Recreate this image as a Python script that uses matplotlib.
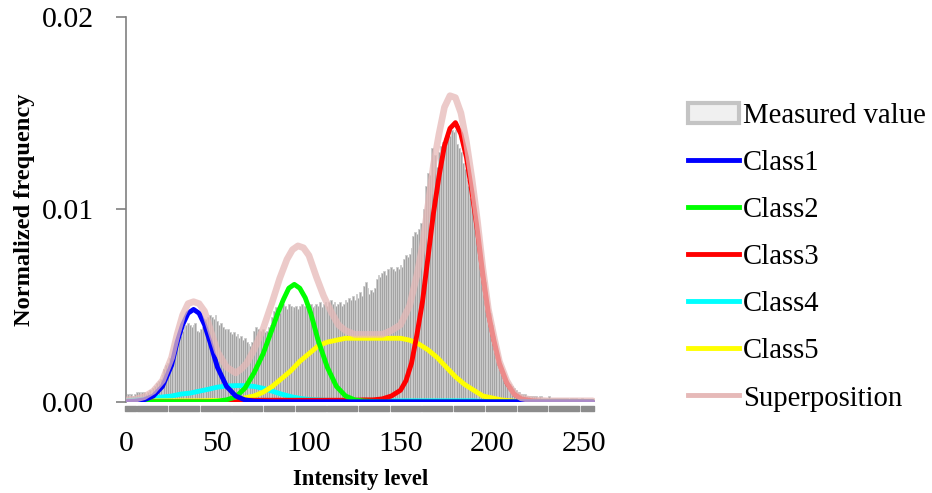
import numpy as np
import matplotlib
matplotlib.use("Agg")
import matplotlib.pyplot as plt
from matplotlib.patches import Patch
from matplotlib.lines import Line2D

plt.rcParams['font.family'] = ['Liberation Serif', 'DejaVu Serif']

# measured histogram, one value per intensity level 0..255
measured = [
    0.0003, 0.0004, 0.0004, 0.0004, 0.0003, 0.0004, 0.0005, 0.0005, 0.0004, 0.0005, 0.0005, 0.0004, 0.0005, 0.0006, 0.0006, 0.0007,
    0.0008, 0.0010, 0.0011, 0.0012, 0.0014, 0.0017, 0.0019, 0.0020, 0.0023, 0.0024, 0.0025, 0.0028, 0.0031, 0.0032, 0.0034, 0.0037,
    0.0039, 0.0040, 0.0041, 0.0040, 0.0039, 0.0040, 0.0041, 0.0037, 0.0036, 0.0038, 0.0039, 0.0041, 0.0043, 0.0044, 0.0045, 0.0044,
    0.0043, 0.0045, 0.0042, 0.0040, 0.0041, 0.0039, 0.0038, 0.0037, 0.0038, 0.0036, 0.0035, 0.0036, 0.0034, 0.0035, 0.0033, 0.0034,
    0.0032, 0.0033, 0.0031, 0.0030, 0.0029, 0.0031, 0.0037, 0.0039, 0.0038, 0.0036, 0.0037, 0.0038, 0.0036, 0.0037, 0.0039, 0.0040,
    0.0044, 0.0047, 0.0049, 0.0048, 0.0046, 0.0049, 0.0051, 0.0050, 0.0048, 0.0051, 0.0050, 0.0047, 0.0049, 0.0050, 0.0048, 0.0050,
    0.0051, 0.0049, 0.0050, 0.0048, 0.0050, 0.0051, 0.0049, 0.0050, 0.0051, 0.0050, 0.0052, 0.0049, 0.0051, 0.0052, 0.0050, 0.0052,
    0.0053, 0.0051, 0.0052, 0.0050, 0.0051, 0.0052, 0.0050, 0.0051, 0.0053, 0.0052, 0.0054, 0.0053, 0.0055, 0.0053, 0.0056, 0.0054,
    0.0057, 0.0055, 0.0060, 0.0062, 0.0059, 0.0056, 0.0058, 0.0057, 0.0059, 0.0064, 0.0066, 0.0065, 0.0067, 0.0068, 0.0066, 0.0069,
    0.0068, 0.0070, 0.0069, 0.0068, 0.0070, 0.0069, 0.0071, 0.0070, 0.0074, 0.0076, 0.0075, 0.0077, 0.0080, 0.0086, 0.0088, 0.0087,
    0.0090, 0.0093, 0.0092, 0.0100, 0.0112, 0.0119, 0.0118, 0.0132, 0.0125, 0.0128, 0.0122, 0.0130, 0.0133, 0.0135, 0.0137, 0.0138,
    0.0139, 0.0138, 0.0141, 0.0140, 0.0141, 0.0134, 0.0132, 0.0130, 0.0124, 0.0121, 0.0115, 0.0112, 0.0106, 0.0100, 0.0094, 0.0088,
    0.0082, 0.0078, 0.0072, 0.0066, 0.0062, 0.0057, 0.0050, 0.0046, 0.0040, 0.0034, 0.0029, 0.0026, 0.0021, 0.0018, 0.0015, 0.0013,
    0.0011, 0.0010, 0.0009, 0.0008, 0.0007, 0.0006, 0.0005, 0.0005, 0.0004, 0.0004, 0.0004, 0.0003, 0.0003, 0.0003, 0.0003, 0.0003,
    0.0003, 0.0002, 0.0003, 0.0003, 0.0002, 0.0002, 0.0002, 0.0003, 0.0002, 0.0002, 0.0002, 0.0002, 0.0002, 0.0002, 0.0002, 0.0002,
    0.0002, 0.0002, 0.0001, 0.0002, 0.0002, 0.0001, 0.0002, 0.0001, 0.0001, 0.0002, 0.0001, 0.0001, 0.0001, 0.0001, 0.0001, 0.0001,
]
levels = np.arange(len(measured))

# fitted classes (denser points around the peaks)
class1_x = [0, 5, 10, 15, 20, 25, 28, 31, 34, 37, 40, 43, 46, 50, 55, 60, 65, 70, 80, 255]
class1 = [0.0, 0.00003, 0.0001, 0.0003, 0.0008, 0.0019, 0.0031, 0.0040, 0.0046, 0.0048,
          0.0046, 0.0040, 0.0031, 0.0018, 0.0008, 0.0003, 0.0001, 0.00003, 0.0, 0.0]

class2_x = [0, 45, 50, 55, 60, 65, 70, 75, 80, 83, 86, 89, 92, 95, 98, 101, 105, 110, 115, 120, 125, 130, 140, 255]
class2 = [0.0, 0.0, 0.00003, 0.0001, 0.00025, 0.0007, 0.0015, 0.0025, 0.0038, 0.0046, 0.0053, 0.0059,
          0.0061, 0.0059, 0.0054, 0.0046, 0.0032, 0.0018, 0.0008, 0.0003, 0.0001, 0.00004, 0.0, 0.0]

class3_x = [0, 60, 65, 125, 130, 135, 140, 145, 150, 153, 156, 159, 162, 165, 168, 171, 174, 177, 180,
            183, 186, 189, 192, 195, 198, 201, 204, 208, 212, 216, 222, 230, 255]
class3 = [0.0, 0.0, 0.00008, 0.00008, 0.0001, 0.0001, 0.00015, 0.0003, 0.0006, 0.0011, 0.0020, 0.0035,
          0.0052, 0.0075, 0.0098, 0.0117, 0.0133, 0.0142, 0.0145, 0.0139, 0.0127, 0.0109, 0.0089, 0.0066,
          0.0046, 0.0032, 0.0020, 0.0010, 0.0004, 0.00015, 0.00005, 0.0, 0.0]

# sampled every 5 levels (0, 5, ..., 255)
class4_x = np.arange(0, 256, 5)
class4 = [0.00005, 0.0001, 0.00013, 0.0002, 0.00025, 0.0003, 0.0004, 0.00045, 0.00055, 0.00065,
          0.00076, 0.00082, 0.00084, 0.00084, 0.0008, 0.0007, 0.00055, 0.0004, 0.00027, 0.00018,
          0.00012, 0.0001, 0.00008] + [0.00005] * 16 + [0.00002] * 13
class5_x = np.arange(0, 256, 5)
class5 = [0.0, 0.0, 0.00003, 0.00005, 0.00005, 0.00005, 0.00005, 0.00005, 0.00005, 0.00006,
          0.00006, 0.00007, 0.00012, 0.0002, 0.0003, 0.0005, 0.0008, 0.0012, 0.0016, 0.0021,
          0.0025, 0.0029, 0.0031, 0.0032, 0.0033, 0.0033, 0.0033, 0.0033, 0.0033, 0.0033,
          0.0033, 0.0032, 0.0030, 0.0027, 0.0023, 0.0018, 0.0013, 0.0009, 0.0006, 0.0003,
          0.0002, 0.0001, 0.00005] + [0.0] * 9

sup_x = [0, 5, 10, 15, 20, 25, 28, 31, 34, 37, 40, 43, 46, 50, 55, 60, 63, 66, 70, 75, 80, 84, 88, 91,
         94, 97, 100, 104, 108, 112, 116, 120, 125, 130, 135, 140, 145, 150, 155, 159, 162, 165, 168,
         171, 174, 177, 180, 183, 186, 189, 192, 195, 198, 201, 204, 208, 212, 216, 222, 230, 255]
superposition = [0.0001, 0.00013, 0.00026, 0.00055, 0.0011, 0.0023, 0.0035, 0.0045, 0.0051, 0.0052,
                 0.0051, 0.0047, 0.0038, 0.0026, 0.0018, 0.0015, 0.0017, 0.0020, 0.0027, 0.0038,
                 0.0052, 0.0064, 0.0074, 0.0079, 0.0081, 0.0080, 0.0076, 0.0065, 0.0055, 0.0047,
                 0.0040, 0.0037, 0.0035, 0.0035, 0.0035, 0.0035, 0.0037, 0.0040, 0.0050, 0.0066,
                 0.0081, 0.0102, 0.0123, 0.0139, 0.0153, 0.0159, 0.0158, 0.0150, 0.0135, 0.0116,
                 0.0094, 0.0069, 0.0048, 0.0034, 0.0021, 0.0011, 0.00045, 0.0002, 0.0001, 0.00005,
                 0.00005]

fig = plt.figure(figsize=(9.32, 4.93), dpi=100)
ax = fig.add_axes([0.135, 0.185, 0.503, 0.781])

ax.bar(levels, measured, width=1.0, color='#9a9a9a', edgecolor='#cccccc', linewidth=0.7,
       alpha=0.9, zorder=1)

line_kw = dict(lw=3.5, zorder=3, solid_capstyle='round', solid_joinstyle='round')
ax.plot(class4_x, class4, color='#00ffff', **line_kw)
ax.plot(class5_x, class5, color='#ffff00', **line_kw)
ax.plot(class3_x, class3, color='#ff0000', **line_kw)
ax.plot(class2_x, class2, color='#00ff00', **line_kw)
ax.plot(class1_x, class1, color='#0000ff', **line_kw)
ax.plot(sup_x, superposition, color='#e6b9b8', lw=4.8, alpha=0.75, zorder=4,
        solid_capstyle='round', solid_joinstyle='round')

# gray strip under the x axis
seps = np.arange(5.8, 256, 17.3)
edges = np.concatenate([[-1.0], seps, [256.0]])
segs = [(edges[i] + 0.5, edges[i + 1] - edges[i] - 1.0) for i in range(len(edges) - 1)]
ax.broken_barh(segs, (-0.024, 0.013), transform=ax.get_xaxis_transform(),
               color='#8c8c8c', clip_on=False, zorder=2)

ax.set_xlim(0, 256)
ax.set_ylim(0, 0.02)
ax.set_xticks([0, 50, 100, 150, 200, 250])
ax.set_yticks([0.0, 0.01, 0.02])
ax.set_yticklabels(['0.00', '0.01', '0.02'])
ax.tick_params(axis='x', length=0, pad=21, labelsize=21.5)
ax.tick_params(axis='y', length=7, width=1.2, color='#808080', pad=16, labelsize=21.5)
for s in ['top', 'right', 'bottom']:
    ax.spines[s].set_visible(False)
ax.spines['left'].set_color('#808080')
ax.spines['left'].set_linewidth(1.2)

ax.set_xlabel('Intensity level', fontsize=16.3, fontweight='bold', labelpad=9)
ax.set_ylabel('Normalized frequency', fontsize=17.6, fontweight='bold', labelpad=5)

handles = [
    Patch(facecolor='#f0f0f0', edgecolor='#c4c4c4', linewidth=3),
    Line2D([], [], color='#0000ff', lw=3.5),
    Line2D([], [], color='#00ff00', lw=3.5),
    Line2D([], [], color='#ff0000', lw=3.5),
    Line2D([], [], color='#00ffff', lw=3.5),
    Line2D([], [], color='#ffff00', lw=3.5),
    Line2D([], [], color='#e6b9b8', lw=3.5),
]
labels = ['Measured value', 'Class1', 'Class2', 'Class3', 'Class4', 'Class5', 'Superposition']
fig.legend(handles, labels, loc='upper left', bbox_to_anchor=(0.7255, 0.815), frameon=False,
           fontsize=20.7, handlelength=1.8, handletextpad=0.12, labelspacing=0.73, borderaxespad=0)

fig.savefig('out.png', dpi=100)
